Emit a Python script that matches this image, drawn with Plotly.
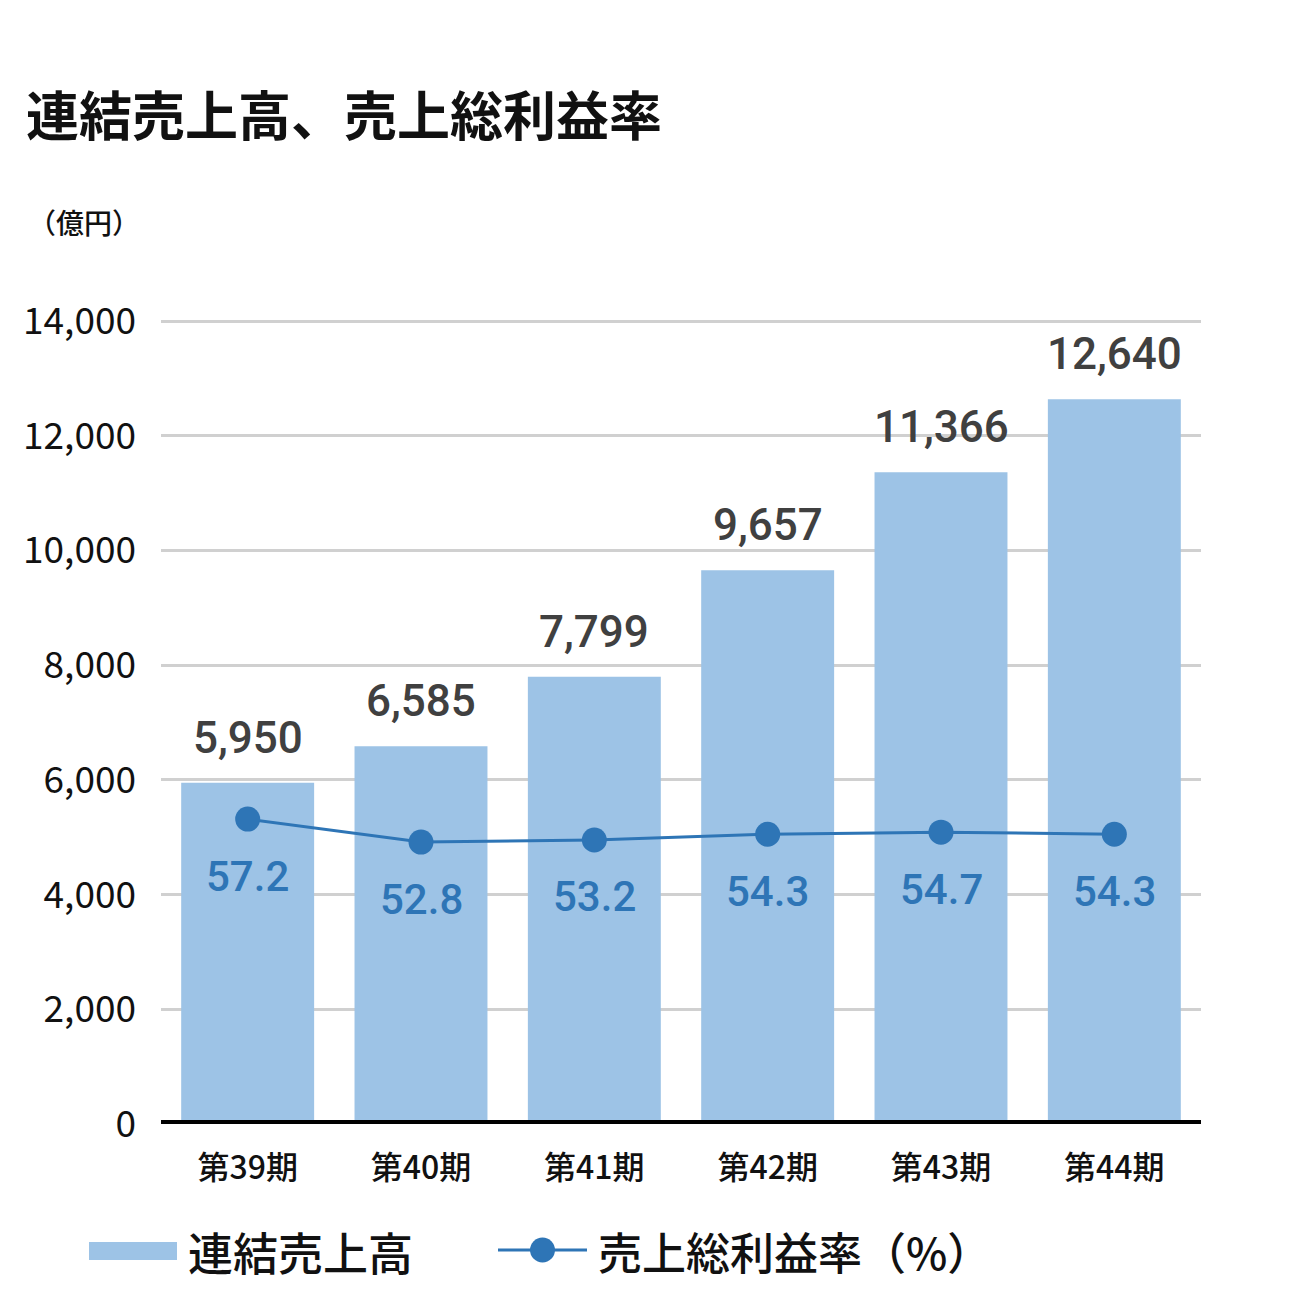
import plotly.graph_objects as go

categories = ["第39期", "第40期", "第41期", "第42期", "第43期", "第44期"]
sales = [5950, 6585, 7799, 9657, 11366, 12640]
sales_labels = ["5,950", "6,585", "7,799", "9,657", "11,366", "12,640"]
margin_pct = [57.2, 52.8, 53.2, 54.3, 54.7, 54.3]
y_ticks = [0, 2000, 4000, 6000, 8000, 10000, 12000, 14000]
y_ticklabels = ["0", "2,000", "4,000", "6,000", "8,000", "10,000", "12,000", "14,000"]

BAR = "#9dc3e6"
LINE = "#2e75b6"
JP = "Noto Sans CJK JP"

W, H = 1310, 1300
L, R, T, B = 161, 109, 320, 176
PW, PH = W - L - R, H - T - B


def px_x(x):
    return (x - L) / PW


def px_y(y):
    return (H - B - y) / PH


fig = go.Figure()
fig.add_trace(go.Bar(
    x=categories, y=sales, marker=dict(color=BAR, line=dict(width=0)),
    width=0.767, name="連結売上高", showlegend=False,
))
fig.add_trace(go.Scatter(
    x=categories, y=margin_pct, yaxis="y2", mode="lines+markers",
    line=dict(color=LINE, width=3), marker=dict(color=LINE, size=25),
    name="売上総利益率（%）", showlegend=False,
))

annotations = []
for c, v, lab in zip(categories, sales, sales_labels):
    annotations.append(dict(
        x=c, y=v, xref="x", yref="y", text=lab, showarrow=False,
        yanchor="middle", yshift=45,
        font=dict(family="Roboto", size=44, color="#404040", weight=500),
    ))
for c, p in zip(categories, margin_pct):
    annotations.append(dict(
        x=c, y=p, xref="x", yref="y2", text=f"{p:.1f}", showarrow=False,
        yanchor="middle", yshift=-57,
        font=dict(family="Roboto", size=42, color=LINE, weight=500),
    ))

annotations.append(dict(
    x=px_x(24), y=px_y(113), xref="paper", yref="paper", text="連結売上高、売上総利益率",
    showarrow=False, xanchor="left", yanchor="middle",
    font=dict(family=JP, size=53, color="#111111", weight="bold"),
))
annotations.append(dict(
    x=px_x(26), y=px_y(222), xref="paper", yref="paper", text="（億円）",
    showarrow=False, xanchor="left", yanchor="middle",
    font=dict(family=JP, size=28, color="#111111", weight=500),
))
annotations.append(dict(
    x=px_x(186), y=px_y(1251), xref="paper", yref="paper", text="連結売上高",
    showarrow=False, xanchor="left", yanchor="middle",
    font=dict(family=JP, size=45, color="#111111", weight=500),
))
annotations.append(dict(
    x=px_x(596), y=px_y(1251), xref="paper", yref="paper", text="売上総利益率（%）",
    showarrow=False, xanchor="left", yanchor="middle",
    font=dict(family=JP, size=44, color="#111111", weight=500),
))

shapes = [
    dict(type="line", xref="paper", yref="y", x0=0, x1=1, y0=0, y1=0,
         line=dict(color="#000000", width=8), layer="above"),
    dict(type="rect", xref="paper", yref="paper", x0=px_x(89), x1=px_x(177),
         y0=px_y(1260), y1=px_y(1242), fillcolor=BAR, line=dict(width=0)),
    dict(type="line", xref="paper", yref="paper", x0=px_x(498), x1=px_x(587),
         y0=px_y(1250), y1=px_y(1250), line=dict(color=LINE, width=3)),
    dict(type="circle", xref="paper", yref="paper", x0=px_x(530), x1=px_x(555),
         y0=px_y(1262.5), y1=px_y(1237.5), fillcolor=LINE, line=dict(width=0)),
]

fig.update_layout(
    width=W, height=H, margin=dict(l=L, r=R, t=T, b=B, autoexpand=False),
    paper_bgcolor="white", plot_bgcolor="white",
    showlegend=False, bargap=0.233,
    xaxis=dict(showline=False, showgrid=False, ticks="", ticklabelstandoff=22,
               tickfont=dict(family=JP, size=32, color="#111111", weight=500)),
    yaxis=dict(range=[0, 14020], tickvals=y_ticks, ticktext=y_ticklabels,
               showgrid=True, gridcolor="#d0d0d0", gridwidth=2.5, zeroline=False,
               showline=False, ticks="", ticklabelstandoff=24,
               tickfont=dict(family=JP, size=37, color="#111111")),
    yaxis2=dict(range=[-1.15, 152.7], overlaying="y", side="right",
                visible=False, showgrid=False),
    annotations=annotations, shapes=shapes,
)

fig.write_html("out.html")
